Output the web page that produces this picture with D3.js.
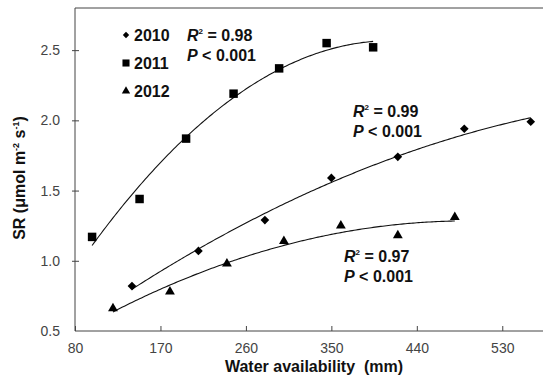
<!DOCTYPE html>
<html>
<head>
<meta charset="utf-8">
<script src="https://cdn.jsdelivr.net/npm/d3@7"></script>
<style>
  body { margin: 0; background: #fff; }
  svg { font-family: "Liberation Sans", Arial, sans-serif; }
  .axis path, .axis line { stroke: #444; }
  .axis text { fill: #444; font-size: 14px; }
</style>
</head>
<body>
<svg id="chart" width="543" height="378"></svg>
<script>
// water availability (mm) and SR values
const water2010 = [140, 210, 280, 350, 420, 490, 560];
const sr2010 = [0.82, 1.07, 1.29, 1.59, 1.74, 1.94, 1.99];
const water2011 = [98, 148, 197, 247, 295, 345, 394];
const sr2011 = [1.17, 1.44, 1.87, 2.19, 2.37, 2.55, 2.52];
const water2012 = [120, 180, 240, 300, 360, 420, 480];
const sr2012 = [0.66, 0.78, 0.98, 1.14, 1.25, 1.18, 1.31];

const xTicks = [80, 170, 260, 350, 440, 530];
const yTicks = [0.5, 1.0, 1.5, 2.0, 2.5];
const years = ["2010", "2011", "2012"];
const stats = [
  {r2: "0.98", p: "0.001"},
  {r2: "0.99", p: "0.001"},
  {r2: "0.97", p: "0.001"}
];

const svg = d3.select("#chart");
const x = d3.scaleLinear().domain([80, 575]).range([75, 545]);
const y = d3.scaleLinear().domain([0.5, 2.8]).range([331, 8]);

// least squares quadratic, for the trend lines
function quadFit(xs, ys) {
  const n = xs.length;
  let s = [0, 0, 0, 0, 0], t = [0, 0, 0];
  for (let i = 0; i < n; i++) {
    for (let k = 0; k < 5; k++) s[k] += Math.pow(xs[i], k);
    for (let k = 0; k < 3; k++) t[k] += ys[i] * Math.pow(xs[i], k);
  }
  const A = [[s[0], s[1], s[2], t[0]], [s[1], s[2], s[3], t[1]], [s[2], s[3], s[4], t[2]]];
  for (let i = 0; i < 3; i++) {
    for (let j = i + 1; j < 3; j++) {
      const f = A[j][i] / A[i][i];
      for (let k = i; k < 4; k++) A[j][k] -= f * A[i][k];
    }
  }
  const c = [0, 0, 0];
  for (let i = 2; i >= 0; i--) {
    let v = A[i][3];
    for (let k = i + 1; k < 3; k++) v -= A[i][k] * c[k];
    c[i] = v / A[i][i];
  }
  return c;
}

// rhombus marker (wider than d3's default diamond)
const diamond = d3.symbolDiamond2 || {
  draw(ctx, size) {
    const r = Math.sqrt(size) * 0.62625;
    ctx.moveTo(0, -r); ctx.lineTo(r, 0); ctx.lineTo(0, r); ctx.lineTo(-r, 0); ctx.closePath();
  }
};

const series = [
  {xs: water2010, ys: sr2010, sym: diamond, size: 48},
  {xs: water2011, ys: sr2011, sym: d3.symbolSquare, size: 72},
  {xs: water2012, ys: sr2012, sym: d3.symbolTriangle, size: 42}
];

// axes
svg.append("g").attr("class", "axis")
  .attr("transform", "translate(0,331)")
  .call(d3.axisBottom(x).tickValues(xTicks).tickSize(-5).tickPadding(12).tickSizeOuter(0))
  .call(g => g.select(".domain").attr("d", "M75,0H543"));

svg.append("g").attr("class", "axis")
  .attr("transform", "translate(75,0)")
  .call(d3.axisLeft(y).tickValues(yTicks).tickFormat(d3.format(".1f")).tickSize(3).tickPadding(12).tickSizeOuter(0))
  .call(g => g.select(".domain").attr("d", "M0,8V331"))
  .call(g => g.selectAll(".tick line").attr("x2", 4).attr("x1", -3))
  .call(g => g.selectAll(".tick").filter(d => d === 0.5).select("line").remove());

svg.append("line").attr("x1", 75).attr("x2", 543).attr("y1", 8).attr("y2", 8)
  .attr("stroke", "#444");

// trend lines
series.forEach(s => {
  const c = quadFit(s.xs, s.ys);
  const pts = d3.range(d3.min(s.xs), d3.max(s.xs) + 0.1, 2);
  svg.append("path")
    .datum(pts)
    .attr("fill", "none").attr("stroke", "#111").attr("stroke-width", 1.1)
    .attr("d", d3.line().x(d => x(d)).y(d => y(c[0] + c[1] * d + c[2] * d * d)));
});

// points
series.forEach(s => {
  svg.append("g").selectAll("path")
    .data(s.xs.map((v, i) => [v, s.ys[i]]))
    .join("path")
    .attr("d", d3.symbol().type(s.sym).size(s.size))
    .attr("transform", d => `translate(${x(d[0])},${y(d[1])})`)
    .attr("fill", "#000");
});

// legend
const legend = svg.append("g");
const legendSize = [26, 50, 30];
years.forEach((yr, i) => {
  const cy = 35 + i * 28;
  legend.append("path")
    .attr("d", d3.symbol().type(series[i].sym).size(legendSize[i]))
    .attr("transform", `translate(126,${cy})`);
  legend.append("text")
    .attr("x", 134).attr("y", cy + 6)
    .attr("font-size", 16).attr("font-weight", "bold").attr("fill", "#111")
    .text(yr);
});

// R2 / P annotations
const statPos = [[187, 41], [353, 117], [344, 262]];
stats.forEach((st, i) => {
  const [sx, sy] = statPos[i];
  const t1 = svg.append("text").attr("x", sx).attr("y", sy)
    .attr("font-size", 16).attr("font-weight", "bold").attr("fill", "#111");
  t1.append("tspan").attr("font-style", "italic").text("R");
  t1.append("tspan").attr("font-size", 8).attr("dy", -7).text("2");
  t1.append("tspan").attr("dy", 7).text(" = " + st.r2);
  const t2 = svg.append("text").attr("x", sx).attr("y", sy + 20)
    .attr("font-size", 16).attr("font-weight", "bold").attr("fill", "#111");
  t2.append("tspan").attr("font-style", "italic").text("P");
  t2.append("tspan").text(" < " + st.p);
});

// axis titles
svg.append("text")
  .attr("x", 314).attr("y", 372).attr("text-anchor", "middle")
  .attr("font-size", 16).attr("font-weight", "bold").attr("fill", "#111")
  .attr("xml:space", "preserve")
  .text("Water availability  (mm)");

const yt = svg.append("text")
  .attr("transform", "translate(25,178) rotate(-90)")
  .attr("text-anchor", "middle")
  .attr("font-size", 16).attr("font-weight", "bold").attr("fill", "#111");
yt.append("tspan").text("SR (\u03bcmol m");
yt.append("tspan").attr("font-size", 9).attr("dy", -6).text("-2");
yt.append("tspan").attr("dy", 6).text(" s");
yt.append("tspan").attr("font-size", 9).attr("dy", -6).text("-1");
yt.append("tspan").attr("dy", 6).text(")");
</script>
</body>
</html>
